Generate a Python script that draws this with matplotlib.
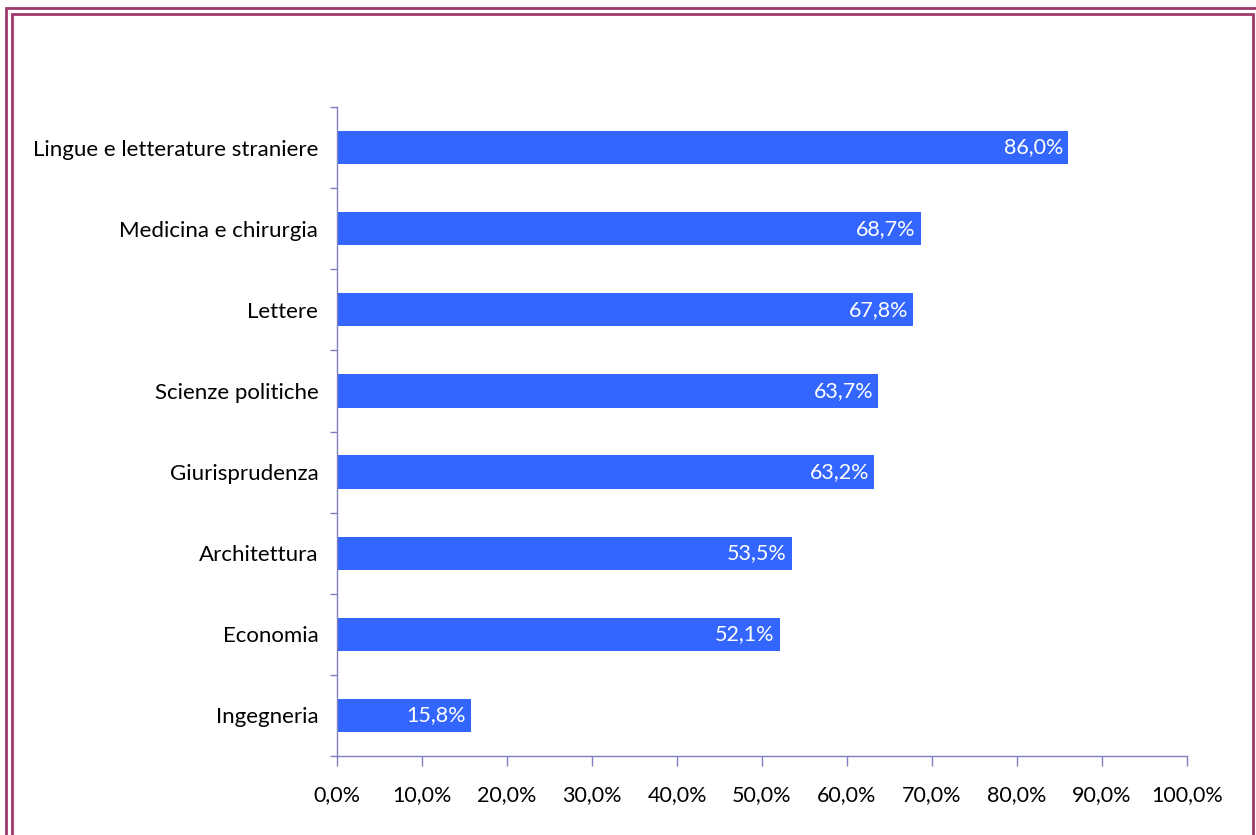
import matplotlib
matplotlib.use("Agg")
import matplotlib.pyplot as plt
from matplotlib.lines import Line2D
from matplotlib.ticker import FixedLocator, FuncFormatter

categories = [
    "Lingue e letterature straniere",
    "Medicina e chirurgia",
    "Lettere",
    "Scienze politiche",
    "Giurisprudenza",
    "Architettura",
    "Economia",
    "Ingegneria",
]
values = [86.0, 68.7, 67.8, 63.7, 63.2, 53.5, 52.1, 15.8]
x_ticks = [0, 10, 20, 30, 40, 50, 60, 70, 80, 90, 100]

BAR = "#3366FF"
AXIS = "#8080C0"
FRAME = "#A0386E"

plt.rcParams["font.family"] = ["Lato", "DejaVu Sans"]

W, H = 1256, 835
fig = plt.figure(figsize=(W / 100, H / 100), dpi=100)
ax = fig.add_axes([337 / W, 1 - 756 / H, (1187 - 337) / W, (756 - 107) / H])

n = len(categories)
ypos = list(range(n))[::-1]
ax.barh(ypos, values, height=0.41, color=BAR, zorder=2)

for y, v in zip(ypos, values):
    ax.text(v - 0.6, y, f"{v:.1f}%".replace(".", ","), ha="right", va="center",
            color="white", fontsize=15.5)

ax.set_xlim(0, 100)
ax.set_ylim(-0.5, n - 0.5)

ax.set_xticks(x_ticks)
ax.xaxis.set_major_formatter(FuncFormatter(lambda v, p: f"{v:.1f}%".replace(".", ",")))
ax.tick_params(axis="x", length=7, width=1, color=AXIS, labelsize=15.5, pad=14,
               labelcolor="black")

ax.set_yticks(ypos)
ax.set_yticklabels(categories)
ax.yaxis.set_minor_locator(FixedLocator([i - 0.5 for i in range(n + 1)]))
ax.tick_params(axis="y", which="major", length=0, labelsize=16, pad=13.5,
               labelcolor="black")
ax.tick_params(axis="y", which="minor", length=5, width=1, color=AXIS)

for s in ("top", "right"):
    ax.spines[s].set_visible(False)
for s in ("left", "bottom"):
    ax.spines[s].set_color(AXIS)
    ax.spines[s].set_linewidth(1)


def frame_px(x0, ytop, x1, lw):
    """Open-bottomed frame line given in pixel coordinates from the top-left."""
    xs = [x0, x0, x1, x1]
    ys = [H + 20, ytop, ytop, H + 20]
    fig.add_artist(Line2D([x / W for x in xs], [1 - y / H for y in ys],
                          color=FRAME, lw=lw, transform=fig.transFigure,
                          solid_joinstyle="miter"))


frame_px(5.5, 8, 1259, 2.0)
frame_px(11.5, 14, 1252.5, 2.0)

fig.savefig("out.png", dpi=100)
